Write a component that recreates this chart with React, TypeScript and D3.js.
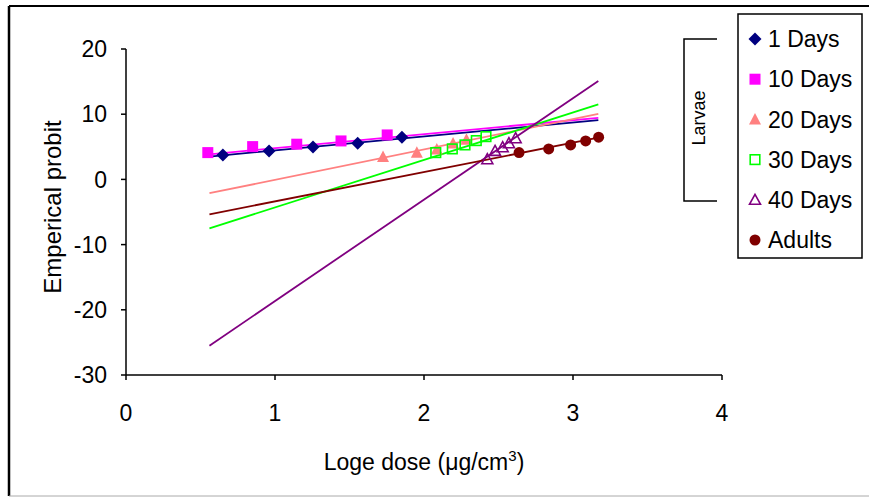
import React from "react";
import * as d3 from "d3";

const seriesNames = ["1 Days", "10 Days", "20 Days", "30 Days", "40 Days", "Adults"];
const seriesColors = ["#000080", "#FF00FF", "#FF8080", "#00FF00", "#800080", "#800000"];
const seriesShapes = ["diamond", "square", "triangle", "squareOpen", "triangleOpen", "circle"];

const days1X = [0.65, 0.96, 1.255, 1.555, 1.852];
const days1Y = [3.76, 4.37, 4.98, 5.55, 6.47];
const days10X = [0.549, 0.85, 1.146, 1.443, 1.753];
const days10Y = [4.11, 5.03, 5.4, 5.9, 6.82];
const days20X = [1.725, 1.952, 2.086, 2.195, 2.285];
const days20Y = [3.45, 4.1, 4.6, 5.5, 6.1];
const days30X = [2.079, 2.19, 2.275, 2.351, 2.416];
const days30Y = [4.11, 4.68, 5.29, 5.95, 6.56];
const days40X = [2.425, 2.477, 2.528, 2.57, 2.615];
const days40Y = [3.1, 4.37, 4.94, 5.55, 6.32];
const adultsX = [2.638, 2.837, 2.984, 3.085, 3.172];
const adultsY = [4.11, 4.68, 5.29, 5.9, 6.47];

// fitted lines, read at the common x extent
const fitX = [0.56, 3.17];
const fitY0 = [3.5, 3.85, -2.12, -7.5, -25.5, -5.35];
const fitY1 = [9.1, 9.45, 10.05, 11.5, 15.1, 6.4];

const xTicks = [0, 1, 2, 3, 4];
const yTicks = [-30, -20, -10, 0, 10, 20];

const allX = [days1X, days10X, days20X, days30X, days40X, adultsX];
const allY = [days1Y, days10Y, days20Y, days30Y, days40Y, adultsY];

const W = 869;
const H = 497;
const FONT = "Arial, 'Liberation Sans', sans-serif";

function Marker({ shape, color, cx, cy }: { shape: string; color: string; cx: number; cy: number }) {
  switch (shape) {
    case "diamond":
      return <path d={`M${cx},${cy - 6.5}L${cx + 6.5},${cy}L${cx},${cy + 6.5}L${cx - 6.5},${cy}Z`} fill={color} />;
    case "square":
      return <rect x={cx - 5.5} y={cy - 5.5} width={11} height={11} fill={color} />;
    case "squareOpen":
      return <rect x={cx - 4.8} y={cy - 4.8} width={9.6} height={9.6} fill="white" fillOpacity={0} stroke={color} strokeWidth={1.6} />;
    case "triangle":
      return <path d={`M${cx},${cy - 6.5}L${cx + 6},${cy + 5}L${cx - 6},${cy + 5}Z`} fill={color} />;
    case "triangleOpen":
      return <path d={`M${cx},${cy - 5.5}L${cx + 5.5},${cy + 4.5}L${cx - 5.5},${cy + 4.5}Z`} fill="none" stroke={color} strokeWidth={1.6} />;
    default:
      return <circle cx={cx} cy={cy} r={5.5} fill={color} />;
  }
}

export default function App() {
  const x = d3.scaleLinear().domain([0, 4]).range([126, 722]);
  const y = d3.scaleLinear().domain([-30, 20]).range([375, 49]);
  const line = d3.line<[number, number]>().x((d) => x(d[0])).y((d) => y(d[1]));

  const legendY0 = 39;
  const legendStep = 40.2;

  return (
    <svg width={W} height={H} style={{ position: "absolute", left: 0, top: 0, background: "white" }} fontFamily={FONT}>
      <rect x={0} y={0} width={W} height={H} fill="white" />
      {/* outer frame */}
      <line x1={9} y1={6} x2={W} y2={6} stroke="#000" strokeWidth={2} />
      <line x1={9} y1={6} x2={9} y2={496} stroke="#000" strokeWidth={2.5} />
      <line x1={9} y1={496} x2={W} y2={496} stroke="#aaa" strokeWidth={1} />

      {/* axes */}
      <line x1={x(0)} y1={y(20)} x2={x(0)} y2={y(-30)} stroke="#000" strokeWidth={1.5} />
      <line x1={x(0)} y1={y(-30)} x2={x(4)} y2={y(-30)} stroke="#000" strokeWidth={1.5} />
      {yTicks.map((t) => (
        <g key={"y" + t}>
          <line x1={x(0) - 5} x2={x(0)} y1={y(t)} y2={y(t)} stroke="#000" strokeWidth={1.5} />
          <text x={x(0) - 19} y={y(t)} dy="0.36em" textAnchor="end" fontSize={23}>
            {t}
          </text>
        </g>
      ))}
      {xTicks.map((t) => (
        <g key={"x" + t}>
          <line x1={x(t)} x2={x(t)} y1={y(-30)} y2={y(-30) + 5} stroke="#000" strokeWidth={1.5} />
          <text x={x(t)} y={y(-30) + 46} textAnchor="middle" fontSize={23}>
            {t}
          </text>
        </g>
      ))}
      <text transform={`translate(61,207) rotate(-90)`} textAnchor="middle" fontSize={24}>
        Emperical probit
      </text>
      <text x={(x(0) + x(4)) / 2} y={470} textAnchor="middle" fontSize={23}>
        Loge dose (μg/cm<tspan dy={-9} fontSize={15}>3</tspan>
        <tspan dy={9}>)</tspan>
      </text>

      {/* fitted lines */}
      {seriesNames.map((n, i) => (
        <path
          key={"l" + n}
          d={line([
            [fitX[0], fitY0[i]],
            [fitX[1], fitY1[i]],
          ]) as string}
          stroke={seriesColors[i]}
          strokeWidth={1.8}
          fill="none"
        />
      ))}

      {/* points */}
      {seriesNames.map((n, i) => (
        <g key={"p" + n}>
          {allX[i].map((xv, j) => (
            <Marker key={j} shape={seriesShapes[i]} color={seriesColors[i]} cx={x(xv)} cy={y(allY[i][j])} />
          ))}
        </g>
      ))}

      {/* Larvae bracket */}
      <path d="M717,39H684V201H717" fill="none" stroke="#000" strokeWidth={1.5} />
      <text transform="translate(705,118) rotate(-90)" textAnchor="middle" fontSize={18}>
        Larvae
      </text>

      {/* legend */}
      <rect x={738} y={14} width={124} height={244} fill="white" stroke="#000" strokeWidth={1.5} />
      {seriesNames.map((n, i) => (
        <g key={"lg" + n}>
          <Marker shape={seriesShapes[i]} color={seriesColors[i]} cx={755} cy={legendY0 + i * legendStep} />
          <text x={768} y={legendY0 + i * legendStep} dy="0.36em" fontSize={23}>
            {n}
          </text>
        </g>
      ))}
    </svg>
  );
}
